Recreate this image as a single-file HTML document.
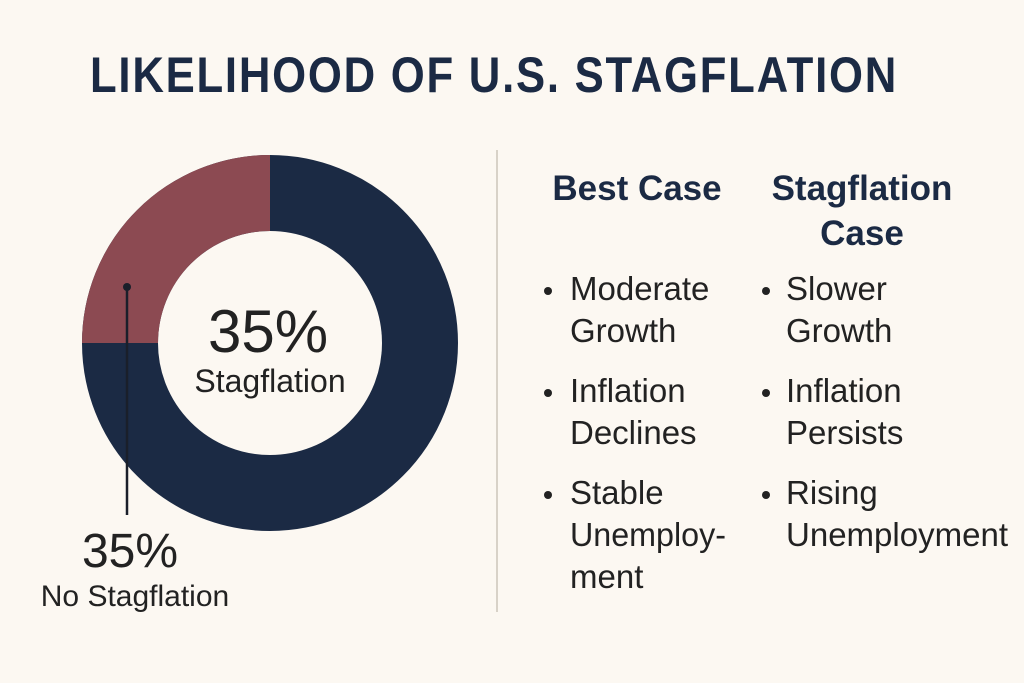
<!DOCTYPE html>
<html><head><style>
body{margin:0;background:#fcf8f2;}
svg{display:block}
text{font-family:"Liberation Sans",sans-serif;}
</style></head><body>
<svg width="1024" height="683" viewBox="0 0 1024 683">
<rect width="1024" height="683" fill="#fcf8f2"/>
<text x="494" y="92" text-anchor="middle" font-size="50" font-weight="bold" fill="#1b2a44" letter-spacing="2" textLength="808" lengthAdjust="spacingAndGlyphs">LIKELIHOOD OF U.S. STAGFLATION</text>
<circle cx="270" cy="343" r="150" fill="none" stroke="#1b2a44" stroke-width="76"/>
<path d="M270 155 A188 188 0 0 0 82 343 L158 343 A112 112 0 0 1 270 231 Z" fill="#8c4a52"/>
<line x1="127" y1="287" x2="127" y2="515" stroke="#1a1f2a" stroke-width="2.5"/>
<circle cx="127" cy="287" r="4" fill="#1a1f2a"/>
<text x="268" y="352" text-anchor="middle" font-size="60" fill="#222">35%</text>
<text x="270" y="392" text-anchor="middle" font-size="32" fill="#222">Stagflation</text>
<text x="130" y="567" text-anchor="middle" font-size="48" fill="#222">35%</text>
<text x="135" y="606" text-anchor="middle" font-size="30" fill="#222">No Stagflation</text>
<line x1="497" y1="150" x2="497" y2="612" stroke="#d8d2c8" stroke-width="2"/>
<g font-size="35" font-weight="bold" fill="#1b2a44" text-anchor="middle">
<text x="637" y="200">Best Case</text>
<text x="862" y="200">Stagflation</text>
<text x="862" y="245">Case</text>
</g>
<g font-size="33" fill="#222">
<text x="570" y="300">Moderate</text><text x="570" y="342">Growth</text>
<text x="570" y="402">Inflation</text><text x="570" y="444">Declines</text>
<text x="570" y="504">Stable</text><text x="570" y="546" textLength="156" lengthAdjust="spacingAndGlyphs">Unemploy-</text><text x="570" y="588">ment</text>
<text x="786" y="300">Slower</text><text x="786" y="342">Growth</text>
<text x="786" y="402">Inflation</text><text x="786" y="444">Persists</text>
<text x="786" y="504">Rising</text><text x="786" y="546" textLength="222" lengthAdjust="spacingAndGlyphs">Unemployment</text>
</g>
<g fill="#222">
<circle cx="548" cy="291" r="4"/><circle cx="548" cy="393" r="4"/><circle cx="548" cy="495" r="4"/>
<circle cx="766" cy="291" r="4"/><circle cx="766" cy="393" r="4"/><circle cx="766" cy="495" r="4"/>
</g>
</svg>
</body></html>
